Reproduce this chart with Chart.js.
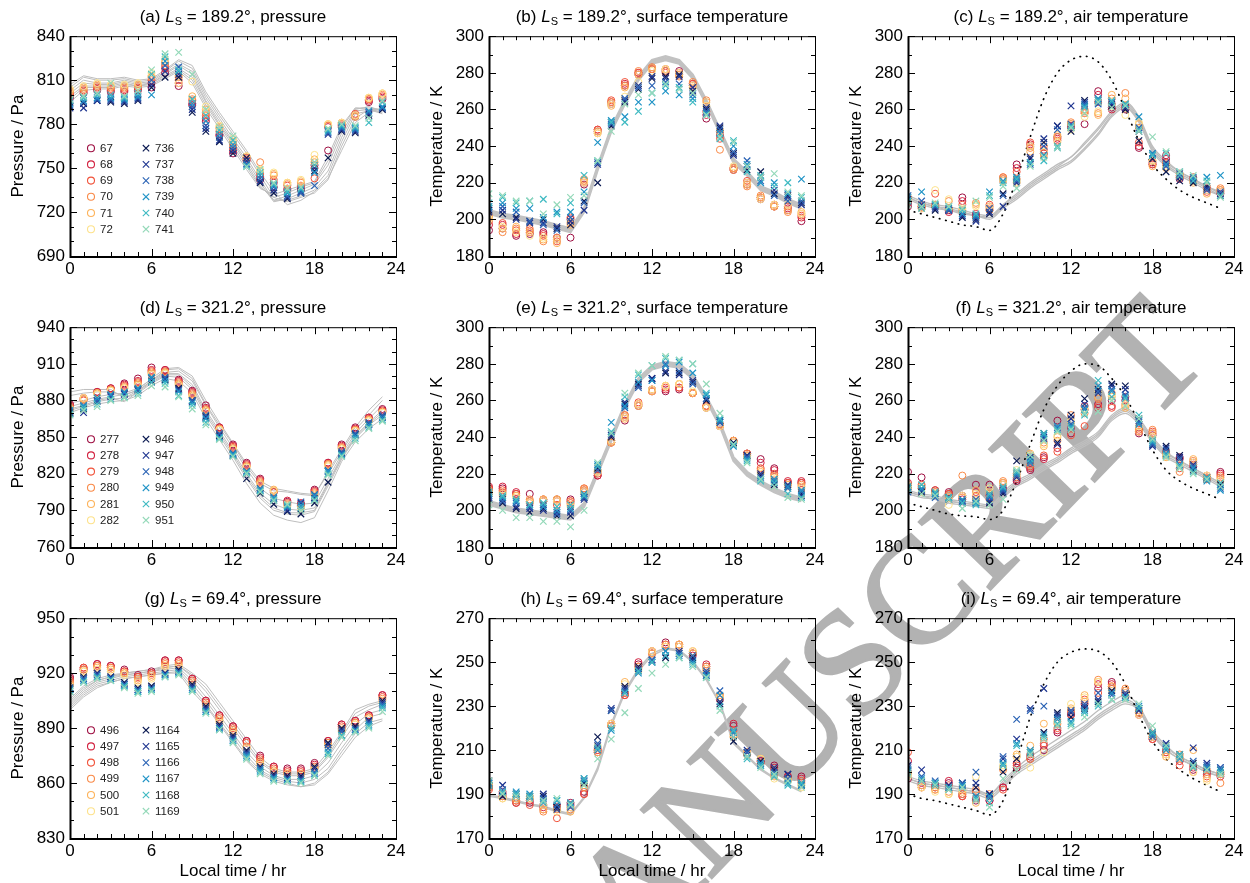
<!DOCTYPE html>
<html>
<head>
<meta charset="utf-8">
<script src="https://cdn.jsdelivr.net/npm/chart.js@4.4.1/dist/chart.umd.min.js"></script>
<style>
body { margin: 0; width: 1250px; height: 883px; overflow: hidden; background: #fff; position: relative;
       font-family: "Liberation Sans", Arial, Helvetica, sans-serif; }
canvas { position: absolute; }
.ttl { position: absolute; text-align: center; font-size: 17px; line-height: 20px; color: #000; white-space: nowrap; }
.ttl sub { font-size: 11px; line-height: 0; vertical-align: -3px; }
#wm { position: absolute; white-space: nowrap; font-family: "Liberation Serif", "Times New Roman", serif;
      font-weight: normal; font-size: 150px; line-height: 1; color: rgb(178,178,178);
      -webkit-text-stroke: 2.5px rgb(178,178,178); mix-blend-mode: multiply; pointer-events: none; }
</style>
</head>
<body>
<div id="wm"><span id="wmPre">ACCEPTED MANUS</span><span id="wmC">C</span>RIPT</div>
<script>
// Local time (hr) of each observation / model output
const hours = [0,1,2,3,4,5,6,7,8,9,10,11,12,13,14,15,16,17,18,19,20,21,22,23];

// Sol labels: 6 circle series, then 6 cross series
const solsLs189 = ['67','68','69','70','71','72','736','737','738','739','740','741'];
const solsLs321 = ['277','278','279','280','281','282','946','947','948','949','950','951'];
const solsLs69  = ['496','497','498','499','500','501','1164','1165','1166','1167','1168','1169'];
const solColors = ['#9e0f42','#d2213f','#f1523a','#f98a48','#fdb35a','#fde28c',
                   '#0b1a52','#1f3590','#2a63b5','#1f93c6','#3fbac2','#94d9b9'];

// ---- (a) Ls 189.2, pressure ----
const pressA = [
  [798,801,803,802,802,803,805,815,806,793,782,772,760,757,742,737,735,735,752,762,778,785,795,797],
  [800,802,804,803,803,804,808,818,808,794,784,773,762,755,744,740,736,737,750,778,779,786,796,798],
  [801,803,805,804,804,805,810,820,810,796,786,775,764,756,746,742,738,738,743,779,780,787,797,799],
  [802,804,806,805,805,806,812,822,812,797,788,777,766,757,754,745,739,740,754,779,781,786,797,800],
  [803,805,807,806,806,807,813,823,813,799,790,778,768,758,748,746,740,741,756,780,780,785,798,801],
  [804,806,808,807,807,808,815,824,808,809,792,779,770,758,749,747,740,742,759,780,781,786,798,801],
  [792,794,796,795,794,796,805,812,812,788,775,768,760,757,740,733,729,733,748,757,775,774,786,790],
  [791,791,796,796,795,797,807,816,814,790,777,769,762,755,741,735,730,734,750,773,776,775,787,791],
  [793,795,797,797,796,798,810,820,819,792,779,771,764,753,743,737,731,733,738,774,777,776,788,791],
  [794,796,798,798,797,799,800,823,816,794,782,773,766,752,745,738,733,735,747,775,778,777,789,792],
  [796,798,800,800,798,801,814,826,817,797,786,776,769,751,747,739,734,736,752,776,779,778,781,795],
  [797,799,801,808,799,803,817,828,829,814,790,778,772,751,749,740,736,737,754,777,780,779,784,796]
];
const modelPressA = [
  [805,812,810,810,811,809,810,816,823,818,800,786,773,760,745,730,727,730,733,742,765,784,790,790],
  [803,810,808,808,810,808,809,815,821,816,798,784,770,757,742,728,728,731,735,745,768,787,789,789],
  [801,808,807,807,809,807,808,814,820,814,796,782,768,755,740,727,729,733,737,748,771,789,790,788],
  [799,806,806,806,808,806,808,813,818,812,795,780,767,753,738,728,731,735,739,752,774,790,792,789],
  [797,805,805,805,807,806,807,812,817,810,793,779,765,751,737,730,733,737,740,755,777,791,791,790],
  [795,803,804,804,806,805,806,811,816,808,791,777,763,749,736,732,735,738,741,758,779,791,790,787],
  [807,813,811,811,812,810,811,817,824,820,802,788,775,762,747,734,725,728,734,743,762,781,788,791]
];

// ---- (b) Ls 189.2, surface temperature ----
const surfB = [
  [194,195,191,192,193,190,190,219,248,263,273,279,282,281,281,273,255,248,227,219,211,207,205,199],
  [197,197,192,193,192,189,200,220,249,264,274,280,283,282,280,274,257,246,228,220,212,208,206,201],
  [199,198,194,194,191,188,201,221,249,265,275,280,282,280,279,274,259,244,228,221,212,207,207,202],
  [201,193,195,195,188,190,198,222,247,264,273,281,282,281,278,275,265,238,227,218,213,208,204,203],
  [202,195,196,193,189,187,197,221,248,262,272,279,283,282,279,272,264,248,228,219,212,207,205,204],
  [200,196,193,191,190,189,199,220,247,263,267,275,281,282,280,273,262,249,229,220,211,208,208,203],
  [205,203,201,199,200,195,197,210,220,251,264,271,277,278,279,270,260,250,236,227,226,214,213,209],
  [204,205,200,198,198,196,199,205,230,253,265,273,278,277,278,272,261,251,235,229,223,216,212,208],
  [206,207,204,199,197,194,201,209,231,252,266,272,273,275,274,268,259,249,237,232,221,213,210,210],
  [207,209,206,206,201,204,204,215,242,254,256,264,264,270,268,266,258,247,240,230,220,220,214,222],
  [209,212,209,210,211,203,209,224,232,253,253,259,269,273,272,264,257,244,243,226,224,218,220,212],
  [214,213,210,210,203,208,212,213,232,248,263,268,269,274,271,269,257,245,242,229,223,225,215,213]
];
const modelSurfB = [
  [204,202,201,199.5,198,196,194,205,228,249,264,277,286,288,286,278,264,248,232,225,217,214,210,207],
  [205,203,202,200.5,199,197,195,206,229,250,265,278,287,289,287,279,265,249,233,226,218,215,211,208],
  [203,201,200,198.5,197,195,193,204,227,248,263,276,285,287,285,277,263,247,231,224,216,213,209,206]
];

// ---- (c) Ls 189.2, air temperature ----
const airC = [
  [207,207,207,205,212,202,205,221,230,240,236,245,250,252,270,261,260,239,230,235,222,221,216,214],
  [209,206,208,204,210,203,207,222,228,241,238,244,251,258,268,260,261,240,231,233,223,222,217,215],
  [210,207,214,206,208,201,208,223,226,242,236,243,252,259,264,263,262,242,230,231,224,223,215,216],
  [211,208,207,210,205,209,206,223,222,239,240,245,253,260,258,266,269,250,232,230,225,221,218,217],
  [212,207,208,206,204,208,205,222,220,237,234,246,252,258,257,268,266,252,229,228,223,220,214,216],
  [211,206,216,211,206,207,207,221,221,240,237,242,249,256,259,262,257,253,232,229,224,221,216,215],
  [210,207,205,205,201,200,203,214,222,233,242,251,248,265,264,262,260,243,233,226,221,220,218,213],
  [211,208,206,205,202,199,204,207,220,234,244,251,262,264,265,263,261,248,236,231,223,221,217,214],
  [213,210,207,205,203,201,206,213,221,230,240,249,252,263,263,264,263,250,235,229,225,222,216,215],
  [212,215,208,206,203,202,215,221,223,231,235,239,250,262,266,264,262,256,236,230,226,223,223,224],
  [210,206,208,207,205,203,213,220,222,231,232,240,251,261,265,265,263,249,235,236,224,221,221,213],
  [208,207,209,207,206,210,212,218,217,229,234,239,250,258,264,261,262,248,245,237,226,224,220,212]
];
const modelAirC = [
  [213,210,208,207,205,203,202,208,213,219,224,229,234,241,249,258,263,255,239,231,226,222,218,214],
  [212,209,207,206,204,202,201,207,212,218,223,228,232,239,247,257,262,254,238,230,225,221,217,213],
  [211,208,206,205,203,202,200,206,211,217,222,227,231,238,246,256,261,253,237,229,224,220,216,213],
  [212,209,207,205,204,202,201,208,214,220,225,230,234,242,250,259,264,256,240,232,226,222,218,215]
];
const surfModelC = [205,203,201,199,197,196,194,203,222,245,266,280,287,289,286,276,260,243,230,222,216,212,209,206];

// ---- (d) Ls 321.2, pressure ----
const pressD = [
  [877,881,887,890,894,898,907,905,897,888,876,858,844,829,816,805,797,795,807,829,844,858,866,873],
  [876,882,887,890,893,896,905,905,896,887,874,858,843,828,815,806,798,796,806,829,843,857,866,872],
  [875,880,886,889,892,895,904,904,895,886,873,857,842,827,814,805,796,794,805,828,842,856,865,871],
  [874,882,886,889,891,894,903,903,894,885,872,857,841,826,813,806,795,793,804,828,841,856,864,871],
  [873,881,886,888,890,893,902,903,893,884,872,856,840,826,812,807,794,793,803,827,841,855,864,870],
  [873,882,885,888,890,892,901,902,892,883,871,856,840,825,811,806,793,792,802,826,840,855,863,870],
  [870,873,880,884,886,889,896,897,890,880,867,851,835,816,804,795,789,787,796,813,836,852,860,866],
  [869,870,879,883,885,888,895,898,889,879,866,852,836,820,806,798,790,796,800,822,837,852,861,867],
  [871,875,880,884,886,889,898,899,888,880,868,853,837,822,808,800,792,797,803,823,838,853,862,868],
  [872,876,882,885,887,890,899,896,887,878,865,850,836,821,807,801,793,794,802,822,836,851,860,866],
  [869,874,877,881,883,886,895,894,884,876,862,849,835,821,806,799,794,792,799,820,835,849,858,864],
  [868,872,875,880,882,884,892,891,883,873,860,848,834,820,805,798,795,790,798,819,834,847,857,863]
];
const modelPressD = [
  [887,889,889,889,882,888,896,905,906,898,877,860,844,826,812,806,805,803,802,822,840,858,872,883],
  [884,886,887,887,884,889,898,906,907,900,880,862,845,828,814,808,806,804,803,820,838,856,868,880],
  [878,880,883,885,886,890,897,903,904,896,876,858,841,824,808,800,797,795,796,816,836,853,865,876],
  [875,878,881,883,885,888,896,902,902,893,872,855,838,820,804,795,791,790,792,813,834,851,862,872],
  [872,875,879,881,882,886,894,900,899,889,868,851,834,816,800,790,787,786,789,810,832,849,860,868],
  [870,874,877,879,880,884,892,898,896,886,865,848,831,812,796,786,782,780,784,806,830,846,857,865],
  [873,876,880,882,879,887,895,901,901,891,870,853,836,818,802,792,788,788,790,812,833,850,861,870]
];

// ---- (e) Ls 321.2, surface temperature ----
const surfE = [
  [212,212,209,209,205,206,206,210,219,237,249,257,265,265,266,264,256,246,238,231,228,223,215,215],
  [213,213,210,205,206,205,205,211,219,238,251,258,266,266,267,264,257,247,238,231,226,222,216,216],
  [212,211,209,204,205,203,204,212,220,237,252,259,265,267,267,264,257,246,237,230,223,220,215,215],
  [211,210,208,206,206,206,205,212,221,238,252,258,266,268,269,264,257,247,238,231,222,219,214,214],
  [210,209,208,205,206,206,203,211,222,237,250,257,265,268,269,264,256,246,238,230,221,218,214,213],
  [209,208,207,204,205,205,202,210,221,238,251,258,266,268,269,265,256,246,237,229,220,217,213,212],
  [206,204,201,199,201,197,197,207,223,240,258,269,272,275,275,270,260,249,237,230,219,214,213,209],
  [207,206,202,201,200,199,199,206,224,241,259,268,272,276,274,271,261,248,236,230,220,215,214,208],
  [208,205,204,202,203,198,200,207,222,242,256,267,271,280,276,269,261,248,236,229,218,216,212,210],
  [209,207,205,203,202,200,201,209,225,248,257,270,271,279,281,275,263,249,235,228,217,217,213,211],
  [210,208,206,203,204,202,203,208,224,243,262,274,279,283,282,280,264,250,236,227,216,215,209,207],
  [203,200,196,196,194,194,191,200,226,242,264,275,279,284,282,280,269,253,236,226,217,213,207,206]
];
const modelSurfE = [
  [204,202,200,199,198,197,196,203,221,239,257,271,278,280,279,273,261,247,228,220,215,211,208,206],
  [205,203,201,200,199,198,197,204,222,240,258,272,279,281,280,274,262,248,229,221,216,212,209,207],
  [203,201,199,198,197,196,195,202,220,238,256,270,277,279,278,272,260,246,227,219,214,210,207,205]
];

// ---- (f) Ls 321.2, air temperature ----
const airF = [
  [221,218,211,210,208,214,214,214,216,222,229,249,242,257,258,260,260,242,241,230,229,226,217,221],
  [215,212,210,209,206,210,208,212,217,223,228,234,245,255,256,257,262,243,242,231,228,224,218,220],
  [213,214,211,209,207,208,206,215,218,224,230,232,241,246,257,256,258,244,243,232,223,225,219,219],
  [212,213,209,208,219,206,209,216,220,225,237,238,252,253,261,264,257,245,244,231,221,227,217,218],
  [214,212,210,207,207,211,210,215,219,231,235,240,248,255,262,262,256,243,242,229,226,228,218,217],
  [213,210,209,203,208,209,212,214,222,230,236,241,249,256,265,263,258,246,240,230,225,226,219,216],
  [211,210,209,206,204,205,204,209,227,228,242,237,252,261,266,269,268,250,236,235,230,222,217,214],
  [212,211,208,207,205,204,205,210,218,229,240,236,250,258,264,268,266,249,235,234,229,225,218,213],
  [210,211,207,206,205,206,207,211,219,227,239,245,247,256,265,266,263,248,236,233,228,224,217,212],
  [213,212,209,207,206,204,208,212,220,226,241,246,246,255,268,265,262,247,237,231,225,223,216,211],
  [212,214,210,207,204,203,209,213,221,228,242,244,245,252,271,262,261,252,238,230,224,221,218,215],
  [211,209,208,206,201,205,203,206,222,230,238,243,244,253,254,260,257,250,239,229,223,220,217,213]
];
const modelAirF = [
  [211,209,208,206,205,204,203,209,215,219,224,228,233,237,242,251,255,249,239,231,227,223,219,215],
  [210,208,207,205,204,203,202,208,214,218,223,227,232,236,241,250,254,248,238,230,226,222,218,214],
  [209,207,206,204,203,202,201,207,213,217,222,226,231,235,240,249,253,247,237,229,225,221,217,213],
  [210,208,206,205,204,203,202,210,216,220,225,229,234,238,243,252,256,250,240,232,227,223,219,215]
];
const surfModelF = [204,202,200,198,197,196.5,195,200,216,236,255,268,276,280,279,272,262,248,233,222,216,212,209,206];

// ---- (g) Ls 69.4, pressure ----
const pressG = [
  [918,922,925,924,922,919,921,927,927,917,905,897,891,883,875,869,868,868,871,883,892,894,897,908],
  [917,923,925,924,921,918,920,927,927,917,905,897,891,883,874,869,867,867,870,883,892,894,897,908],
  [916,923,924,923,921,918,920,926,926,916,904,896,890,882,873,868,866,866,869,882,891,893,896,907],
  [915,922,924,923,920,917,919,925,925,915,903,895,889,880,872,867,865,865,868,882,890,893,896,906],
  [914,921,923,922,920,916,918,924,924,914,902,894,888,879,871,866,865,865,868,881,889,892,895,905],
  [913,921,922,921,919,915,917,923,923,913,901,893,887,879,870,866,864,864,867,880,888,892,895,904],
  [912,918,920,918,915,912,913,920,922,914,902,892,886,878,869,865,864,864,869,882,890,891,894,905],
  [911,917,920,918,914,911,912,920,921,913,901,891,885,877,868,864,863,863,868,881,889,890,894,904],
  [912,917,919,917,914,911,912,919,921,912,900,890,884,876,868,863,862,862,866,879,888,889,893,903],
  [911,916,918,917,913,910,911,919,920,911,899,890,883,875,867,863,862,861,865,877,886,889,892,902],
  [910,915,918,916,913,910,911,918,920,911,899,889,883,874,866,862,861,861,864,876,886,888,891,901],
  [910,915,917,916,912,909,910,918,919,910,898,889,882,873,865,861,861,860,864,875,885,888,890,899]
];
const modelPressG = [
  [906,913,917,919,920,921,922,924,925,920,914,904,894,884,874,868,866,866,868,877,888,900,903,905],
  [904,911,916,918,920,921,922,923,924,918,910,900,890,880,871,866,864,864,866,874,885,896,900,903],
  [903,910,915,917,919,920,921,922,923,916,907,897,887,877,869,864,862,862,864,871,882,892,898,900],
  [902,909,914,916,918,919,920,921,922,914,905,895,885,875,867,863,861,860,862,868,879,889,896,898],
  [901,908,913,915,917,918,919,920,921,912,903,893,883,873,866,862,860,858,860,866,877,887,893,895],
  [900,907,912,915,917,918,919,920,920,910,902,892,882,872,865,861,859,858,859,865,875,885,891,894],
  [905,912,916,918,919,920,921,923,924,919,912,902,892,882,872,867,865,865,867,875,887,898,902,904]
];

// ---- (h) Ls 69.4, surface temperature ----
const surfH = [
  [193,190,186,186,185,185,186,191,209,221,236,249,254,259,257,254,248,234,221,209,205,203,198,198],
  [194,191,187,187,184,184,185,190,210,222,235,250,255,258,258,253,249,233,222,209,205,202,198,197],
  [192,189,186,185,183,179,184,190,210,221,235,248,254,257,257,254,247,235,219,208,204,201,197,196],
  [193,189,187,188,182,183,183,193,211,222,236,248,255,258,258,255,248,234,216,209,206,199,196,195],
  [194,188,188,189,183,184,182,194,209,221,241,247,254,257,258,254,246,235,217,208,206,198,197,194],
  [195,188,189,188,185,182,184,195,212,222,240,246,255,257,257,255,247,234,216,209,206,197,196,193],
  [196,189,190,189,189,184,185,195,216,228,239,248,251,252,254,252,244,231,214,209,205,201,199,194],
  [195,194,189,188,190,183,186,196,212,229,238,247,250,253,255,251,245,232,216,210,204,202,199,195],
  [194,192,190,189,188,185,184,197,213,228,237,246,251,255,254,253,246,237,218,209,203,200,197,194],
  [195,191,191,190,187,187,185,196,210,219,236,245,250,255,253,250,244,235,218,207,204,199,195,194],
  [194,191,190,189,186,187,186,197,211,220,236,246,250,253,252,249,243,230,219,206,203,198,194,195],
  [196,190,189,188,187,188,185,194,206,215,227,238,245,249,252,248,243,228,216,207,202,199,196,193]
];
const modelSurfH = [
  [189,188,186.5,185,184,182,180.5,188,201,221,236,246,253,256,255,250,242,231,213,207,201,197,194,191],
  [189.5,188.5,187,185.5,184.5,182.5,181,188.5,202,222,237,247,254,256.5,255.5,250.5,242.5,231.5,214,207.5,201.5,197.5,194.5,191.5]
];

// ---- (i) Ls 69.4, air temperature ----
const airI = [
  [197,194,193,195,190,187,187,193,202,206,210,218,226,229,238,241,237,227,216,209,206,201,200,199],
  [205,195,194,196,189,188,187,193,204,207,212,219,227,231,240,240,236,226,215,210,205,202,199,198],
  [209,193,192,194,189,191,189,192,203,208,213,220,226,233,236,239,235,227,215,209,203,203,198,200],
  [200,193,193,191,190,192,190,201,207,206,215,222,228,232,242,238,238,228,216,208,208,200,201,195],
  [199,194,192,190,191,186,188,202,208,212,222,223,229,235,241,239,237,227,217,207,207,210,197,199],
  [198,193,191,190,192,198,189,203,207,202,209,224,231,234,241,237,236,226,216,208,206,200,196,200],
  [201,196,194,193,195,193,190,200,206,209,218,227,225,229,232,237,235,229,218,212,207,204,202,201],
  [203,201,195,194,194,195,190,206,215,229,238,226,227,230,233,236,235,228,217,213,208,211,204,202],
  [202,198,196,193,195,200,188,207,224,228,230,225,228,231,236,235,236,229,216,211,207,205,203,202],
  [201,197,195,192,194,189,189,204,213,210,217,224,223,228,231,236,234,230,217,210,206,203,202,201],
  [200,196,195,193,193,188,186,203,212,209,216,222,222,227,230,233,234,229,218,211,208,202,201,200],
  [199,196,194,192,193,187,184,197,201,208,215,221,221,225,231,233,233,231,221,212,207,203,201,199]
];
const modelAirI = [
  [198,196,195,194,193,192,190,195,201,205,209,213,217,221,226,230,233,229,218,211,207,204,201,199],
  [197,195,194,193,192,191,189,194,200,204,208,212,216,220,225,229,232,228,217,210,206,203,200,198],
  [196,194,193,192,191,190,188,193,199,203,207,211,215,219,224,228,231,228,217,210,206,203,200,198],
  [197,195,194,193,192,191,190,196,202,207,211,215,219,223,228,232,235,230,219,212,207,204,201,199]
];
const surfModelI = [190,188,187,185.5,184,182.5,180.5,187,205,225,240,250,254.5,256,255,250,240,226,214,206,201,197,194,191];

// ---- layout ----
const colX = [70, 489, 908];
const plotW = 326, plotH = 223;
const rowY = [33, 324, 615];

const panels = [
  {tag:'a', ls:'189.2', name:'pressure',            col:0,row:0, obs:pressA, model:modelPressA, dotted:null,       sols:solsLs189, y:[690,840,30], yTitle:'Pressure / Pa',   kind:'press'},
  {tag:'b', ls:'189.2', name:'surface temperature', col:1,row:0, obs:surfB,  model:modelSurfB,  dotted:null,       sols:solsLs189, y:[180,300,20], yTitle:'Temperature / K', kind:'surf'},
  {tag:'c', ls:'189.2', name:'air temperature',     col:2,row:0, obs:airC,   model:modelAirC,   dotted:surfModelC, sols:solsLs189, y:[180,300,20], yTitle:'Temperature / K', kind:'air'},
  {tag:'d', ls:'321.2', name:'pressure',            col:0,row:1, obs:pressD, model:modelPressD, dotted:null,       sols:solsLs321, y:[760,940,30], yTitle:'Pressure / Pa',   kind:'press'},
  {tag:'e', ls:'321.2', name:'surface temperature', col:1,row:1, obs:surfE,  model:modelSurfE,  dotted:null,       sols:solsLs321, y:[180,300,20], yTitle:'Temperature / K', kind:'surf'},
  {tag:'f', ls:'321.2', name:'air temperature',     col:2,row:1, obs:airF,   model:modelAirF,   dotted:surfModelF, sols:solsLs321, y:[180,300,20], yTitle:'Temperature / K', kind:'air'},
  {tag:'g', ls:'69.4',  name:'pressure',            col:0,row:2, obs:pressG, model:modelPressG, dotted:null,       sols:solsLs69,  y:[830,950,30], yTitle:'Pressure / Pa',   kind:'press'},
  {tag:'h', ls:'69.4',  name:'surface temperature', col:1,row:2, obs:surfH,  model:modelSurfH,  dotted:null,       sols:solsLs69,  y:[170,270,20], yTitle:'Temperature / K', kind:'surf'},
  {tag:'i', ls:'69.4',  name:'air temperature',     col:2,row:2, obs:airI,   model:modelAirI,   dotted:surfModelI, sols:solsLs69,  y:[170,270,20], yTitle:'Temperature / K', kind:'air'}
];

const FONT = '"Liberation Sans", Arial, Helvetica, sans-serif';

// box with inward ticks on all four sides (IDL style)
const framePlugin = {
  id: 'frame',
  afterDatasetsDraw(chart, args, opts) {
    const {ctx, chartArea: a, scales: {x, y}} = chart;
    ctx.save();
    ctx.strokeStyle = '#000';
    ctx.lineWidth = 1;
    ctx.beginPath();
    for (let h = x.min; h <= x.max; h += 1) {
      const px = Math.round(x.getPixelForValue(h)) + 0.5;
      const len = h % 6 === 0 ? 7 : 4;
      ctx.moveTo(px, a.bottom); ctx.lineTo(px, a.bottom - len);
      ctx.moveTo(px, a.top); ctx.lineTo(px, a.top + len);
    }
    for (let v = y.min; v <= y.max; v += 10) {
      const py = Math.round(y.getPixelForValue(v)) + 0.5;
      const len = (v - y.min) % opts.major === 0 ? 7 : 4;
      ctx.moveTo(a.left, py); ctx.lineTo(a.left + len, py);
      ctx.moveTo(a.right, py); ctx.lineTo(a.right - len, py);
    }
    ctx.stroke();
    ctx.strokeRect(a.left + 0.5, a.top + 0.5, a.right - a.left, a.bottom - a.top);
    ctx.lineWidth = 2;
    ctx.beginPath();
    ctx.moveTo(a.left + 0.5, a.top); ctx.lineTo(a.left + 0.5, a.bottom + 1);
    ctx.lineTo(a.right + 1, a.bottom + 1);
    ctx.stroke();
    ctx.restore();
  }
};

// sol legend drawn inside pressure panels
const solLegend = {
  id: 'solLegend',
  afterDatasetsDraw(chart, args, opts) {
    if (!opts.show) return;
    const {ctx, chartArea: a} = chart;
    const obs = chart.data.datasets.filter(d => d.isObs);
    ctx.save();
    ctx.font = '11.5px ' + FONT;
    ctx.textBaseline = 'middle';
    ctx.fillStyle = '#222';
    obs.forEach((d, i) => {
      const c = i < 6 ? 0 : 1;
      const mx = a.left + 21 + c * 55;
      const my = a.top + 112 + (i % 6) * 16.2;
      ctx.strokeStyle = d.borderColor;
      ctx.lineWidth = 1.1;
      ctx.beginPath();
      if (d.pointStyle === 'circle') {
        ctx.arc(mx, my, 3.5, 0, Math.PI * 2);
      } else {
        ctx.moveTo(mx - 3.2, my - 3.2); ctx.lineTo(mx + 3.2, my + 3.2);
        ctx.moveTo(mx - 3.2, my + 3.2); ctx.lineTo(mx + 3.2, my - 3.2);
      }
      ctx.stroke();
      ctx.fillText(d.label, mx + 9, my + 0.5);
    });
    ctx.restore();
  }
};

function xy(vals) {
  return hours.map((h, i) => ({x: h, y: vals[i]}));
}

panels.forEach(p => {
  const bottomRow = p.row === 2;
  const xH = bottomRow ? 48 : 30;
  const cv = document.createElement('canvas');
  cv.width = plotW + 84;
  cv.height = 12 + plotH + xH;
  cv.style.left = (colX[p.col] - 70) + 'px';
  cv.style.top = (rowY[p.row] - 12) + 'px';
  document.body.appendChild(cv);

  const t = document.createElement('div');
  t.className = 'ttl';
  t.style.left = colX[p.col] + 'px';
  t.style.width = plotW + 'px';
  t.style.top = (rowY[p.row] - 26) + 'px';
  t.innerHTML = '(' + p.tag + ') <i>L</i><sub>S</sub> = ' + p.ls + '\u00b0, ' + p.name;
  document.body.appendChild(t);

  const datasets = [];
  p.model.forEach((m, k) => {
    datasets.push({
      label: 'model ' + (k + 1), data: xy(m), showLine: true, pointRadius: 0,
      borderColor: p.kind === 'surf' ? '#c2c2c2' : '#bebebe',
      borderWidth: p.kind === 'surf' ? (p.tag === 'h' ? 1.6 : 2.4) : (p.kind === 'air' ? 1.3 : 1),
      cubicInterpolationMode: p.kind === 'air' ? 'monotone' : 'default',
      tension: p.kind === 'air' ? 0.4 : 0, order: 40
    });
  });
  if (p.dotted) {
    datasets.push({
      label: 'surface', data: xy(p.dotted), showLine: true, pointRadius: 0,
      borderColor: '#000', borderWidth: 1.7, borderDash: [0.5, 6], borderCapStyle: 'round',
      cubicInterpolationMode: 'monotone', tension: 0.4, order: 30
    });
  }
  p.obs.forEach((s, i) => {
    const circ = i < 6;
    datasets.push({
      label: p.sols[i], isObs: true, data: xy(s), showLine: false,
      pointStyle: circ ? 'circle' : 'crossRot',
      pointRadius: circ ? 3.5 : 4.6,
      pointBorderWidth: circ ? 1 : 1.2,
      borderColor: solColors[i], backgroundColor: 'rgba(0,0,0,0)',
      pointBackgroundColor: 'rgba(0,0,0,0)', pointBorderColor: solColors[i],
      order: 12 - i
    });
  });

  new Chart(cv, {
    type: 'scatter',
    data: {datasets},
    options: {
      responsive: false, animation: false, events: [],
      layout: {padding: {left: 0, right: 14, top: 12, bottom: 0}},
      scales: {
        x: {
          type: 'linear', min: 0, max: 24,
          grid: {display: false, drawTicks: false}, border: {display: false},
          ticks: {stepSize: 6, padding: 3, color: '#000', maxRotation: 0, font: {family: FONT, size: 17}},
          title: {display: bottomRow, text: 'Local time / hr', color: '#000',
                  font: {family: FONT, size: 17}, padding: {top: 0, bottom: 4}},
          afterFit(s) { s.height = xH; }
        },
        y: {
          min: p.y[0], max: p.y[1],
          grid: {display: false, drawTicks: false}, border: {display: false},
          ticks: {stepSize: p.y[2], padding: 5, color: '#000', font: {family: FONT, size: 17}},
          title: {display: true, text: p.yTitle, color: '#000',
                  font: {family: FONT, size: 17}, padding: {top: 8, bottom: 0}},
          afterFit(s) { s.width = 70; }
        }
      },
      plugins: {
        legend: {display: false}, tooltip: {enabled: false},
        frame: {major: p.y[2] === 30 ? 30 : 20},
        solLegend: {show: p.kind === 'press'}
      }
    },
    plugins: [framePlugin, solLegend]
  });
});

// "ACCEPTED MANUSCRIPT" watermark, rotated across the lower right panels
const wm = document.getElementById('wm');
const pre = document.getElementById('wmPre');
const cLetter = document.getElementById('wmC');
const ox = pre.offsetWidth + cLetter.offsetWidth / 2;
const oy = wm.offsetHeight * 0.5;
wm.style.left = (915 - ox) + 'px';
wm.style.top = (594 - oy) + 'px';
wm.style.transformOrigin = ox + 'px ' + oy + 'px';
wm.style.transform = 'rotate(-46deg)';
</script>
</body>
</html>
